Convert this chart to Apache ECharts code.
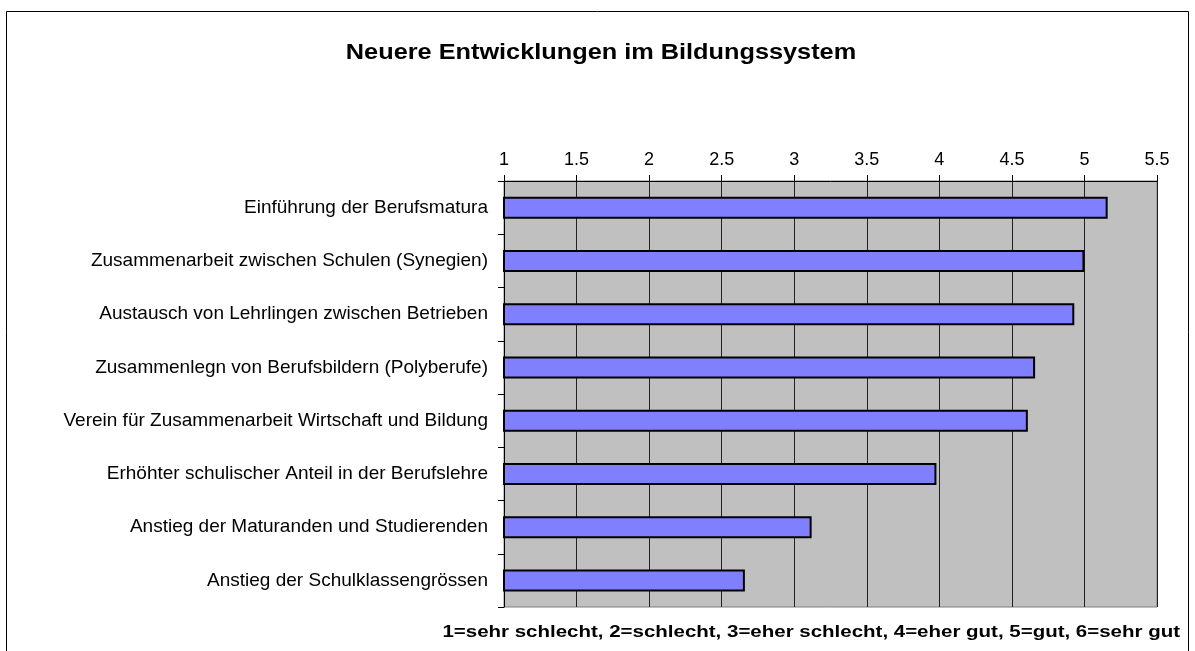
<!DOCTYPE html>
<html>
<head>
<meta charset="UTF-8">
<title>Neuere Entwicklungen im Bildungssystem</title>
<script src="https://cdn.jsdelivr.net/npm/echarts@6/dist/echarts.min.js"></script>
<style>
	html, body { margin: 0; padding: 0; background: #fff; }
	#charts { width: 1195px; height: 651px; }
</style>
<script type="text/javascript">

	// categories from top to bottom
	var categories = [
		'Einführung der Berufsmatura',
		'Zusammenarbeit zwischen Schulen (Synegien)',
		'Austausch von Lehrlingen zwischen Betrieben',
		'Zusammenlegn von Berufsbildern (Polyberufe)',
		'Verein für Zusammenarbeit Wirtschaft und Bildung',
		'Erhöhter schulischer Anteil in der Berufslehre',
		'Anstieg der Maturanden und Studierenden',
		'Anstieg der Schulklassengrössen'
	];
	var ratings = [5.16, 5.00, 4.93, 4.66, 4.61, 3.98, 3.12, 2.66];

	var axisMin = 1;
	var axisMax = 5.5;
	var axisStep = 0.5;

	var titleText = 'Neuere Entwicklungen im Bildungssystem';
	var noteText = '1=sehr schlecht, 2=schlecht, 3=eher schlecht, 4=eher gut, 5=gut, 6=sehr gut';

	function init() {
		var chart = echarts.init(document.getElementById('charts'));
		var font = 'Liberation Sans, Arial, sans-serif';

		var option = {
			animation : false,
			backgroundColor : '#fff',
			textStyle : { fontFamily : font },
			graphic : [ {
				type : 'rect',
				shape : { x : 6.5, y : 11.5, width : 1182, height : 660 },
				style : { fill : 'none', stroke : '#000', lineWidth : 1 },
				silent : true
			}, {
				// title, a bit wider as in the original
				type : 'text',
				x : 601,
				y : 53,
				scaleX : 1.15,
				silent : true,
				style : {
					text : titleText,
					fontSize : 22,
					fontWeight : 'bold',
					fontFamily : font,
					fill : '#000',
					align : 'center',
					verticalAlign : 'middle'
				}
			}, {
				type : 'text',
				x : 1180,
				y : 633,
				scaleX : 1.28,
				silent : true,
				style : {
					text : noteText,
					fontSize : 16,
					fontWeight : 'bold',
					fontFamily : font,
					fill : '#000',
					align : 'right',
					verticalAlign : 'middle'
				}
			} ],
			grid : {
				left : 504,
				right : 38,
				top : 181,
				bottom : 44,
				show : true,
				backgroundColor : '#c0c0c0',
				borderColor : '#808080',
				borderWidth : 1
			},
			xAxis : {
				type : 'value',
				position : 'top',
				min : axisMin,
				max : axisMax,
				interval : axisStep,
				axisLine : { show : true, lineStyle : { color : '#000', width : 1 } },
				axisTick : { show : true, length : 6, lineStyle : { color : '#000' } },
				axisLabel : { color : '#000', fontSize : 18, margin : 12 },
				splitLine : { show : true, lineStyle : { color : '#222', width : 1 } }
			},
			yAxis : {
				type : 'category',
				inverse : true,
				data : categories,
				axisLine : { show : true, lineStyle : { color : '#000', width : 1 } },
				axisTick : { show : true, length : 6, lineStyle : { color : '#000' } },
				axisLabel : { color : '#000', fontSize : 19, margin : 16, padding : [8, 0, 0, 0] },
				splitLine : { show : false }
			},
			series : [ {
				name : 'Bewertung',
				type : 'bar',
				data : ratings,
				barWidth : 22,
				itemStyle : { color : '#8080ff', borderColor : '#000', borderWidth : 2 }
			} ]
		};

		chart.setOption(option);
	}

	window.onload = function() {
		init();
	}
</script>
</head>
<body>
	<div id="charts"></div>
</body>
</html>
